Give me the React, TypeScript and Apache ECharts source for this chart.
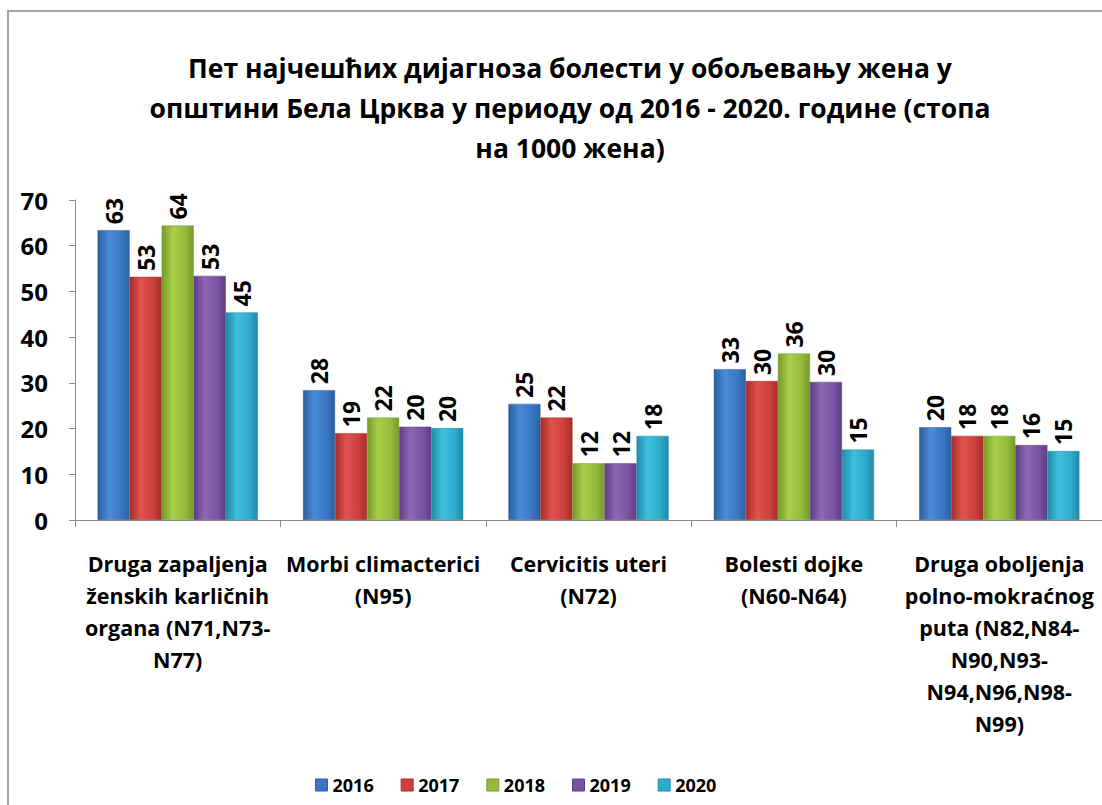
import React, { useEffect, useRef } from "react";
import * as echarts from "echarts";

const titleLines = [
  "Пет најчешћих дијагноза болести у обољевању жена у",
  "општини Бела Црква у периоду од 2016 - 2020. године (стопа",
  "на 1000 жена)",
];

const categories = [
  "Druga zapaljenja\nženskih karličnih\norgana (N71,N73-\nN77)",
  "Morbi climacterici\n(N95)",
  "Cervicitis uteri\n(N72)",
  "Bolesti dojke\n(N60-N64)",
  "Druga oboljenja\npolno-mokraćnog\nputa (N82,N84-\nN90,N93-\nN94,N96,N98-\nN99)",
];

const years = ["2016", "2017", "2018", "2019", "2020"];

const v2016 = [63.4, 28.4, 25.4, 33.0, 20.3];
const v2017 = [53.2, 19.0, 22.4, 30.4, 18.4];
const v2018 = [64.4, 22.4, 12.4, 36.4, 18.4];
const v2019 = [53.4, 20.4, 12.4, 30.2, 16.4];
const v2020 = [45.4, 20.1, 18.4, 15.4, 15.1];

const yTicks = { min: 0, max: 70, interval: 10 };

const seriesValues = [v2016, v2017, v2018, v2019, v2020];

const palette = [
  { dark: "#2c5f9e", mid: "#4a8ad6", base: "#3a76c4" },
  { dark: "#a52c29", mid: "#e0524d", base: "#cc3f3b" },
  { dark: "#769a2a", mid: "#a9cf4a", base: "#93ba3a" },
  { dark: "#5d3d82", mid: "#8e67b5", base: "#7853a0" },
  { dark: "#1f8aa6", mid: "#3fc0de", base: "#2eaacb" },
];

const FONT = "'Open Sans', 'Noto Sans', 'DejaVu Sans', sans-serif";

export default function App() {
  const ref = useRef<HTMLDivElement>(null);

  useEffect(() => {
    document.body.style.margin = "0";
    if (!ref.current) return;
    const chart = echarts.init(ref.current, undefined, { renderer: "svg" });

    const series = years.map((y, i) => ({
      name: y,
      type: "bar" as const,
      data: seriesValues[i],
      barGap: "0%",
      barCategoryGap: "22%",
      itemStyle: {
        color: new echarts.graphic.LinearGradient(0, 0, 1, 0, [
          { offset: 0, color: palette[i].dark },
          { offset: 0.35, color: palette[i].mid },
          { offset: 0.75, color: palette[i].base },
          { offset: 1, color: palette[i].dark },
        ]),
        borderColor: palette[i].dark,
        borderWidth: 0.5,
      },
      label: {
        show: true,
        position: "top" as const,
        rotate: 90,
        align: "left",
        verticalAlign: "middle",
        distance: 6,
        formatter: (p: any) => String(Math.round(p.value)),
        color: "#000",
        fontFamily: FONT,
        fontWeight: "bold",
        fontSize: 23,
      },
    }));

    chart.setOption({
      animation: false,
      backgroundColor: "#fff",
      color: palette.map((p) => p.base),
      graphic: [
        {
          type: "text",
          left: 570 - 500,
          top: 48,
          style: {
            text: titleLines.join("\n"),
            width: 1000,
            align: "center",
            x: 500,
            textAlign: "center",
            font: `bold 26.5px ${FONT}`,
            lineHeight: 40,
            fill: "#000",
          },
        },
      ],
      grid: { left: 75, right: 0, top: 200, bottom: 285 },
      legend: {
        data: years.map((y, i) => ({
          name: y,
          itemStyle: { color: palette[i].base, borderColor: palette[i].dark, borderWidth: 1 },
        })),
        left: 310,
        top: 771,
        icon: "rect",
        itemWidth: 12,
        itemHeight: 12,
        itemGap: 27,
        textStyle: { fontFamily: FONT, fontWeight: "bold", fontSize: 18, color: "#000" },
      },
      xAxis: {
        type: "category",
        data: categories,
        axisLine: { lineStyle: { color: "#8c8c8c", width: 1 } },
        axisTick: { show: true, length: 7, lineStyle: { color: "#8c8c8c" } },
        axisLabel: {
          interval: 0,
          margin: 27,
          color: "#000",
          fontFamily: FONT,
          fontWeight: "bold",
          fontSize: 21.5,
          lineHeight: 32,
          align: "center",
        },
      },
      yAxis: {
        type: "value",
        min: yTicks.min,
        max: yTicks.max,
        interval: yTicks.interval,
        splitLine: { show: false },
        axisLine: { show: true, lineStyle: { color: "#8c8c8c", width: 1 } },
        axisTick: { show: true, length: 6, lineStyle: { color: "#8c8c8c" } },
        axisLabel: {
          margin: 27,
          color: "#000",
          fontFamily: FONT,
          fontWeight: "bold",
          fontSize: 24,
        },
      },
      series,
    });

    return () => chart.dispose();
  }, []);

  return (
    <div style={{ position: "fixed", left: 0, top: 0, width: 1102, height: 805, background: "#fff" }}>
      <div ref={ref} style={{ position: "absolute", left: 0, top: 0, width: 1102, height: 805 }} />
      <div
        style={{
          position: "absolute",
          left: 7,
          top: 10,
          width: 1102,
          height: 805,
          borderTop: "2px solid #a3a3a3",
          borderLeft: "2px solid #a3a3a3",
          pointerEvents: "none",
        }}
      />
    </div>
  );
}
